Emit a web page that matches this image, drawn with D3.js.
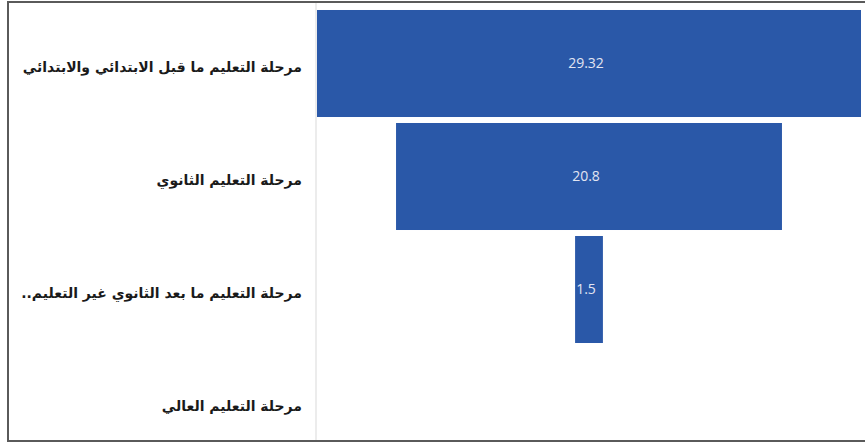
<!DOCTYPE html>
<html lang="ar">
<head>
<meta charset="utf-8">
<script src="https://cdn.jsdelivr.net/npm/d3@7"></script>
<style>
  html, body { margin: 0; padding: 0; background: #fff; }
  svg { display: block; }
</style>
</head>
<body>
<svg id="chart" width="865" height="444"></svg>
<script>
// Education stages, top to bottom of the funnel
const stages = [
  "مرحلة التعليم ما قبل الابتدائي والابتدائي",
  "مرحلة التعليم الثانوي",
  "مرحلة التعليم ما بعد الثانوي غير التعليم..",
  "مرحلة التعليم العالي"
];
const values = [29.32, 20.8, 1.5, 0];

const W = 865, H = 444;
const svg = d3.select("#chart");

// Outer frame
svg.append("rect")
  .attr("x", 8).attr("y", 2)
  .attr("width", 900).attr("height", 439)
  .attr("fill", "#fff")
  .attr("stroke", "#5a5a5a")
  .attr("stroke-width", 2);

const plotLeft = 317, plotRight = 861;
const center = (plotLeft + plotRight) / 2;

const y = d3.scaleBand()
  .domain(stages)
  .range([7, 459])
  .paddingInner(0.053)
  .paddingOuter(0.0265);

// Half-width scale: bars are centred on the funnel axis
const half = d3.scaleLinear()
  .domain([0, d3.max(values)])
  .range([0, (plotRight - plotLeft) / 2]);

const data = stages.map((s, i) => ({ stage: s, value: values[i] }));

// Category axis line
svg.append("line")
  .attr("x1", 316).attr("x2", 316)
  .attr("y1", 3).attr("y2", 440)
  .attr("stroke", "#d9d9d9")
  .attr("stroke-width", 1);

const bars = svg.append("g");
bars.selectAll("rect")
  .data(data.filter(d => d.value > 0))
  .join("rect")
  .attr("x", d => center - half(d.value))
  .attr("width", d => 2 * half(d.value))
  .attr("y", d => y(d.stage))
  .attr("height", y.bandwidth())
  .attr("fill", "#2a58a8");

bars.selectAll("text")
  .data(data.filter(d => d.value > 0))
  .join("text")
  .attr("x", center - 3)
  .attr("y", d => y(d.stage) + y.bandwidth() / 2)
  .attr("dy", "0.35em")
  .attr("text-anchor", "middle")
  .attr("fill", "#e2e5f2")
  .attr("font-family", "'Open Sans', sans-serif")
  .attr("font-size", 14)
  .text(d => d.value);

// Category labels, right-aligned against the axis
svg.append("g").selectAll("text")
  .data(data)
  .join("text")
  .attr("x", 302)
  .attr("y", d => y(d.stage) + y.bandwidth() / 2 + 4)
  .attr("dy", "0.35em")
  .attr("direction", "rtl")
  .attr("text-anchor", "start")
  .attr("fill", "#1a1a1a")
  .attr("font-family", "'DejaVu Sans', sans-serif")
  .attr("font-weight", "bold")
  .attr("font-size", 14)
  .text(d => d.stage);
</script>
</body>
</html>
